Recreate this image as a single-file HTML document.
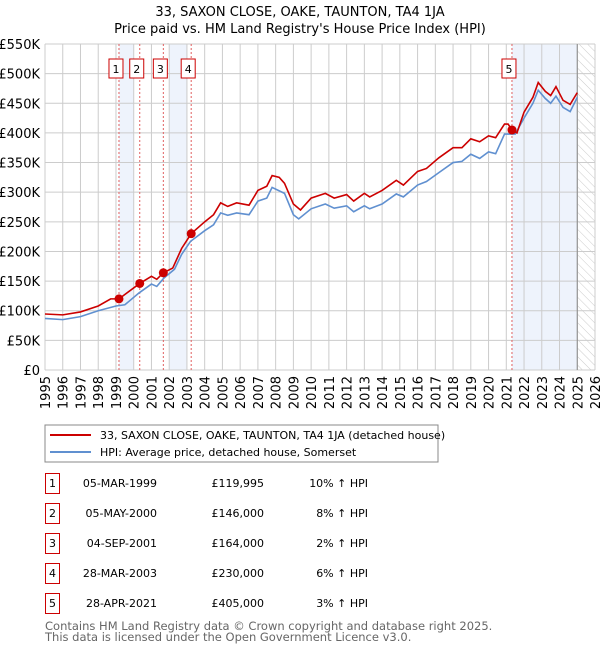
<!DOCTYPE html>
<html><head><meta charset="utf-8"><style>
body{margin:0;background:#fff;font-family:"DejaVu Sans","Liberation Sans",sans-serif;}
svg text{font-family:"DejaVu Sans","Liberation Sans",sans-serif;}
</style></head><body>
<svg id="c" width="600" height="650" xmlns="http://www.w3.org/2000/svg">
<defs><pattern id="hatch" width="6" height="6" patternUnits="userSpaceOnUse" patternTransform="rotate(-45)"><line x1="0" y1="0" x2="0" y2="6" stroke="#ccc" stroke-width="1"/></pattern></defs>
<text x="300" y="16" text-anchor="middle" font-size="13" fill="#000">33, SAXON CLOSE, OAKE, TAUNTON, TA4 1JA</text>
<text x="300" y="33" text-anchor="middle" font-size="13" fill="#000">Price paid vs. HM Land Registry's House Price Index (HPI)</text>
<g id="plot"></g>
<rect x="45" y="425" width="393" height="37" fill="#fff" stroke="#888"/>
<line x1="50" y1="435" x2="91" y2="435" stroke="#cc0000" stroke-width="2"/>
<text x="100" y="439" font-size="11">33, SAXON CLOSE, OAKE, TAUNTON, TA4 1JA (detached house)</text>
<line x1="50" y1="452" x2="91" y2="452" stroke="#6090d0" stroke-width="2"/>
<text x="100" y="456" font-size="11">HPI: Average price, detached house, Somerset</text>
<g id="table"></g>
<text x="45" y="630" font-size="11.5" fill="#666">Contains HM Land Registry data © Crown copyright and database right 2025.</text>
<text x="45" y="641" font-size="11.5" fill="#666">This data is licensed under the Open Government Licence v3.0.</text>
</svg>
<script>
const yTicks=[0,50,100,150,200,250,300,350,400,450,500,550];
const yTickLabels=["£0","£50K","£100K","£150K","£200K","£250K","£300K","£350K","£400K","£450K","£500K","£550K"];
const xYears=[1995,1996,1997,1998,1999,2000,2001,2002,2003,2004,2005,2006,2007,2008,2009,2010,2011,2012,2013,2014,2015,2016,2017,2018,2019,2020,2021,2022,2023,2024,2025,2026];
const redT=[1995,1996,1997,1998,1998.7,1999.17,2000.34,2001,2001.3,2001.67,2002.2,2002.7,2003.24,2004,2004.5,2004.9,2005.3,2005.8,2006.5,2007,2007.5,2007.8,2008.2,2008.5,2009,2009.4,2010,2010.8,2011.3,2012,2012.4,2013,2013.3,2014,2014.8,2015.2,2016,2016.5,2017.2,2018,2018.5,2019,2019.5,2020,2020.4,2020.9,2021.1,2021.32,2021.6,2022,2022.5,2022.8,2023.2,2023.5,2023.8,2024.2,2024.6,2025];
const redV=[94.5,93,98,108,120,120,146,158,153,164,172,205,230,250,262,282,276,282,278,303,310,328,325,315,280,270,290,298,290,296,285,298,292,303,320,312,335,340,358,375,375,390,385,395,392,415,415,405,400,435,460,485,470,463,478,455,448,468];
const hpiT=[1995,1996,1997,1998,1999,1999.5,2000.3,2001,2001.3,2001.7,2002.3,2002.7,2003.2,2004,2004.5,2004.9,2005.3,2005.8,2006.5,2007,2007.5,2007.8,2008.5,2009,2009.3,2010,2010.8,2011.3,2012,2012.4,2013,2013.3,2014,2014.8,2015.2,2016,2016.5,2017.2,2018,2018.5,2019,2019.5,2020,2020.4,2020.9,2021.5,2022,2022.5,2022.8,2023.2,2023.5,2023.8,2024.2,2024.6,2025];
const hpiV=[87,85,90,100,108,110,130,145,141,155,170,195,217,235,245,265,261,265,262,285,290,308,298,262,255,272,280,273,277,267,277,272,280,297,292,312,318,333,350,352,364,357,368,365,398,398,425,450,472,458,450,462,443,436,460];
const saleT=[1999.17,2000.34,2001.67,2003.24,2021.32];
const saleV=[119.995,146,164,230,405];
const saleLabels=["1","2","3","4","5"];
const saleDates=["05-MAR-1999","05-MAY-2000","04-SEP-2001","28-MAR-2003","28-APR-2021"];
const salePrices=["£119,995","£146,000","£164,000","£230,000","£405,000"];
const saleHpi=["10% ↑ HPI","8% ↑ HPI","2% ↑ HPI","6% ↑ HPI","3% ↑ HPI"];
const shades=[[1999.17,2000.0],[2002.0,2003.0],[2021.32,2025.0]];
const NS="http://www.w3.org/2000/svg";
const X0=45,X1=595,Y0=370,Y1=44,T0=1995,T1=2026,VMAX=550;
const x=t=>X0+(t-T0)*(X1-X0)/(T1-T0);
const y=v=>Y0-v*(Y0-Y1)/VMAX;
const plot=document.getElementById('plot');
function mk(tag,attrs,parent){const e=document.createElementNS(NS,tag);for(const k in attrs)e.setAttribute(k,attrs[k]);(parent||plot).appendChild(e);return e;}
let e;
e=mk('rect',{x:X0,y:Y1,width:X1-X0,height:Y0-Y1,fill:'#fff'});


shades.forEach(s=>{e=mk('rect',{x:x(s[0]),y:Y1,width:x(s[1])-x(s[0]),height:Y0-Y1,fill:'#eef3fc'});

});
e=mk('rect',{x:x(2025),y:Y1,width:X1-x(2025),height:Y0-Y1,fill:'url(#hatch)'});


yTicks.forEach((v,i)=>{e=mk('line',{x1:X0,x2:X1,y1:y(v),y2:y(v),stroke:'#ccc','stroke-width':1});


e=mk('text',{x:40,y:y(v)+5,'text-anchor':'end','font-size':13,fill:'#000'});e.textContent=yTickLabels[i];

});
xYears.forEach(t=>{e=mk('line',{x1:x(t),x2:x(t),y1:Y1,y2:Y0,stroke:'#ccc','stroke-width':1});


e=mk('text',{x:0,y:0,'text-anchor':'end','font-size':13,fill:'#000',transform:`translate(${x(t)+5},376) rotate(-90)`});e.textContent=t;

});
e=mk('line',{x1:x(2025),x2:x(2025),y1:Y1,y2:Y0,stroke:'#888','stroke-width':1});


saleT.forEach(t=>{e=mk('line',{x1:x(t),x2:x(t),y1:Y1,y2:Y0,stroke:'#e06060','stroke-width':1,'stroke-dasharray':'2,2'});

});
e=mk('polyline',{points:hpiT.map((t,i)=>x(t)+','+y(hpiV[i])).join(' '),fill:'none',stroke:'#6090d0','stroke-width':1.6});


e=mk('polyline',{points:redT.map((t,i)=>x(t)+','+y(redV[i])).join(' '),fill:'none',stroke:'#cc0000','stroke-width':1.6});


saleT.forEach((t,i)=>{e=mk('circle',{cx:x(t),cy:y(saleV[i]),r:4.5,fill:'#cc0000'});


e=mk('rect',{x:x(t)-10,y:59,width:14,height:19,fill:'#fff',stroke:'#cc0000','stroke-width':1});


e=mk('text',{x:x(t)-3,y:73,'text-anchor':'middle','font-size':11});e.textContent=saleLabels[i];

});
const tb=document.getElementById('table');
saleLabels.forEach((l,i)=>{const cy=483+i*30;
e=mk('rect',{x:45.5,y:cy-9.5,width:14,height:20,fill:'#fff',stroke:'#cc0000'},tb);


e=mk('text',{x:52.5,y:cy+4,'text-anchor':'middle','font-size':11},tb);e.textContent=l;


e=mk('text',{x:157,y:cy+4,'text-anchor':'end','font-size':11},tb);e.textContent=saleDates[i];


e=mk('text',{x:264,y:cy+4,'text-anchor':'end','font-size':11},tb);e.textContent=salePrices[i];


e=mk('text',{x:368,y:cy+4,'text-anchor':'end','font-size':11},tb);e.textContent=saleHpi[i];

});
</script>
</body></html>
